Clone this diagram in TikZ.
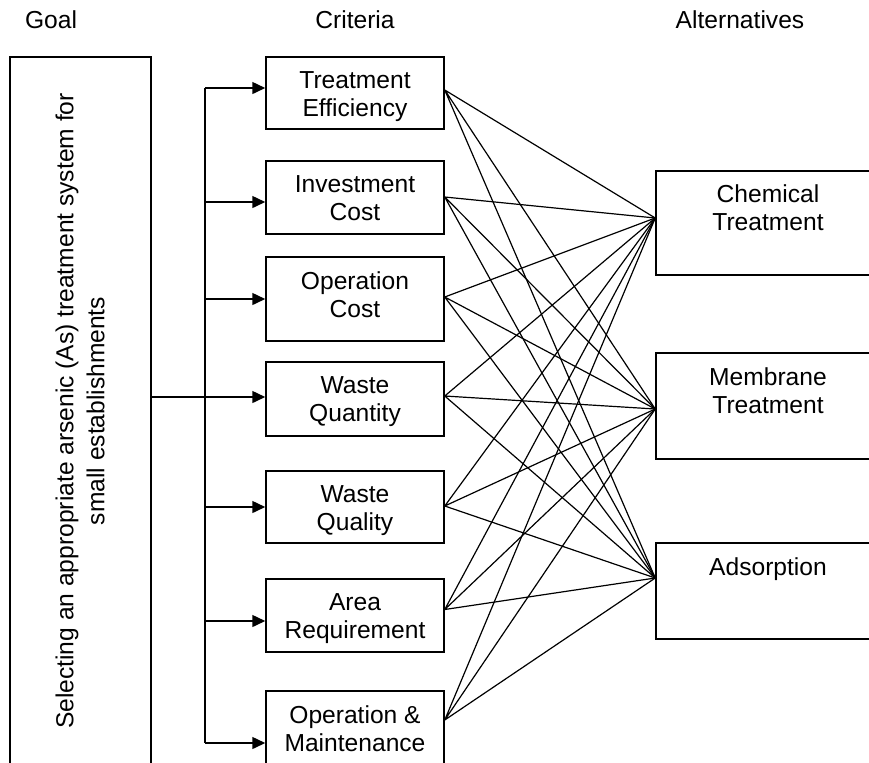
\documentclass[tikz,border=0pt]{standalone}
\usepackage{fontspec}
\setmainfont{Liberation Sans}
\usetikzlibrary{arrows.meta,positioning}

\begin{document}
\begin{tikzpicture}[x=0.5pt,y=-0.5pt,
  box/.style={draw,line width=0.75pt,inner sep=0pt},
  crit/.style={box,minimum width=89pt,minimum height=36.5pt},
  alt/.style={box,minimum width=112pt},
  txt/.style={inner sep=0pt,align=center,
    font=\fontsize{12.3pt}{14pt}\selectfont},
  hdr/.style={txt,anchor=base},
  arr/.style={-{Triangle[length=6.5pt,width=6pt]},line width=0.75pt},
  link/.style={line width=0.6pt}]
  \useasboundingbox (0,0) rectangle (869,762);
  \clip (0,0) rectangle (869,762);
  % headings
  \node[hdr] (hgoal) at ( 51,28) {Goal};
  \node[hdr] (hcrit) at (355,28) {Criteria};
  \node[hdr] (halt)  at (740,28) {Alternatives};
  % goal
  \node[box,minimum width=70.5pt,minimum height=371.5pt] (goal) at (80.5,428.5) {};
  \node[txt,rotate=90,font=\fontsize{12.3pt}{15.5pt}\selectfont] (goaltxt) at (80,411)
    {Selecting an appropriate arsenic (As) treatment system for\\small establishments};
  % criteria
  \node[crit,minimum height=36pt]   (c1) at (355, 93.0) {};
  \node[crit]                       (c2) at (355,197.5) {};
  \node[crit,minimum height=42pt]   (c3) at (355,299.0) {};
  \node[crit,minimum height=37pt]   (c4) at (355,399.0) {};
  \node[crit,minimum height=36pt]   (c5) at (355,507.0) {};
  \node[crit]                       (c6) at (355,615.5) {};
  \node[crit]                       (c7) at (355,727.5) {};
  \node[txt,below=7.5pt of c1.north] (c1t) {Treatment\\Efficiency};
  \node[txt,below=7.5pt of c2.north] (c2t) {Investment\\Cost};
  \node[txt,below=7.5pt of c3.north] (c3t) {Operation\\Cost};
  \node[txt,below=7.5pt of c4.north] (c4t) {Waste\\Quantity};
  \node[txt,below=7.5pt of c5.north] (c5t) {Waste\\Quality};
  \node[txt,below=7.5pt of c6.north] (c6t) {Area\\Requirement};
  \node[txt,below=7.5pt of c7.north] (c7t) {Operation \&\\Maintenance};
  % alternatives
  \node[alt,minimum height=52pt] (a1) at (768,223) {};
  \node[alt,minimum height=53pt] (a2) at (768,406) {};
  \node[alt,minimum height=48pt] (a3) at (768,591) {};
  \node[txt,below=7pt of a1.north]   (a1t) {Chemical\\Treatment};
  \node[txt,below=7.5pt of a2.north] (a2t) {Membrane\\Treatment};
  \node[txt,below=7.5pt of a3.north] (a3t) {Adsorption};
  % goal -> criteria
  \coordinate (t1) at (205, 88);
  \coordinate (t2) at (205,202);
  \coordinate (t3) at (205,299);
  \coordinate (t4) at (205,397);
  \coordinate (t5) at (205,507);
  \coordinate (t6) at (205,621);
  \coordinate (t7) at (205,743);
  \draw[line width=0.75pt] (t1) -- (t7);
  \draw[line width=0.75pt] (goal.east |- t4) -- (t4);
  \draw[arr] (t1) -- (t1 -| c1.west);
  \draw[arr] (t2) -- (t2 -| c2.west);
  \draw[arr] (t3) -- (t3 -| c3.west);
  \draw[arr] (t4) -- (t4 -| c4.west);
  \draw[arr] (t5) -- (t5 -| c5.west);
  \draw[arr] (t6) -- (t6 -| c6.west);
  \draw[arr] (t7) -- (t7 -| c7.west);
  % criteria -> alternatives
  \coordinate (c1o) at ([yshift=1.5pt]c1.east);
  \coordinate (c2o) at ([yshift=0.25pt]c2.east);
  \coordinate (c3o) at ([yshift=1pt]c3.east);
  \coordinate (c4o) at ([yshift=1.5pt]c4.east);
  \coordinate (c5o) at ([yshift=0.5pt]c5.east);
  \coordinate (c6o) at ([yshift=3pt]c6.east);
  \coordinate (c7o) at ([yshift=3.75pt]c7.east);
  \coordinate (a1i) at ([yshift=2.5pt]a1.west);
  \coordinate (a2i) at ([yshift=-1.5pt]a2.west);
  \coordinate (a3i) at ([yshift=6.5pt]a3.west);
  \draw[link] (c1o) -- (a1i) (c1o) -- (a2i) (c1o) -- (a3i);
  \draw[link] (c2o) -- (a1i) (c2o) -- (a2i) (c2o) -- (a3i);
  \draw[link] (c3o) -- (a1i) (c3o) -- (a2i) (c3o) -- (a3i);
  \draw[link] (c4o) -- (a1i) (c4o) -- (a2i) (c4o) -- (a3i);
  \draw[link] (c5o) -- (a1i) (c5o) -- (a2i) (c5o) -- (a3i);
  \draw[link] (c6o) -- (a1i) (c6o) -- (a2i) (c6o) -- (a3i);
  \draw[link] (c7o) -- (a1i) (c7o) -- (a2i) (c7o) -- (a3i);
\end{tikzpicture}
\end{document}
